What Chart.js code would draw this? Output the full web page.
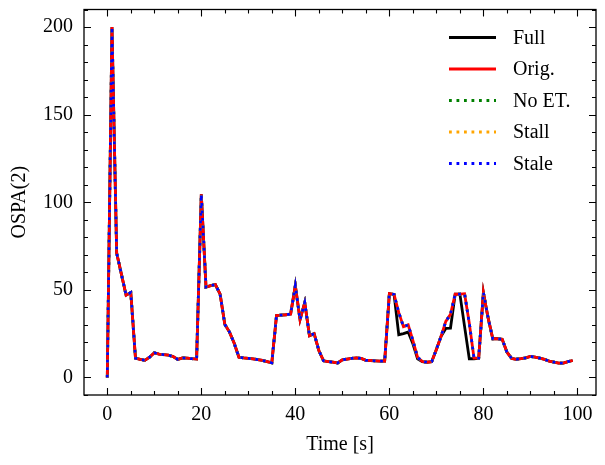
<!DOCTYPE html>
<html>
<head>
<meta charset="utf-8">
<script src="https://cdn.jsdelivr.net/npm/chart.js@4/dist/chart.umd.min.js"></script>
<style>
  html, body { margin: 0; padding: 0; background: #fff; }
  #wrap { width: 605px; height: 465px; }
</style>
</head>
<body>
<div id="wrap"><canvas id="myChart" width="605" height="465"></canvas></div>
<script>
// time stamps [s]
const time = [
  0, 1, 2, 3, 4, 5, 6, 7, 8, 9, 10, 11, 12, 13, 14, 15, 16, 17, 18, 19,
  20, 21, 22, 23, 24, 25, 26, 27, 28, 29, 30, 31, 32, 33, 34, 35, 36, 37, 38, 39,
  40, 41, 42, 43, 44, 45, 46, 47, 48, 49, 50, 51, 52, 53, 54, 55, 56, 57, 58, 59,
  60, 61, 62, 63, 64, 65, 66, 67, 68, 69, 70, 71, 72, 73, 74, 75, 76, 77, 78, 79,
  80, 81, 82, 83, 84, 85, 86, 87, 88, 89, 90, 91, 92, 93, 94, 95, 96, 97, 98, 99
];

// OSPA(2) values per variant
const orig = [
  0, 200, 71, 59, 47, 48.5, 11, 10.3, 9.8, 11.6, 14.1, 13.3, 13, 12.7, 12, 10.3, 11.2, 11, 10.7, 10.5,
  104.5, 51.6, 52.4, 53, 47.5, 30.3, 25.9, 19.5, 11.6, 11.2, 10.9, 10.6, 10.2, 9.7, 9.1, 8.4, 35.4, 35.6, 35.8, 36.2,
  52.4, 33, 42.7, 23.8, 25, 15.4, 9.5, 9.1, 8.7, 8.3, 10.1, 10.5, 10.9, 11.2, 10.9, 9.8, 9.7, 9.5, 9.3, 9.3,
  47.8, 47.4, 37, 29, 30, 21.1, 11.5, 9.1, 8.7, 9, 16, 23.5, 32, 36, 47.6, 47.6, 47.8, 31, 11, 11,
  48.5, 34, 22.1, 22.1, 21.8, 14.5, 10.9, 10.4, 10.7, 11.2, 12, 11.6, 11, 10.3, 9.3, 8.8, 8.2, 8.2, 9, 9.7
];
const full = [
  0, 200, 71, 59, 47, 48.5, 11, 10.3, 9.8, 11.6, 14.1, 13.3, 13, 12.7, 12, 10.3, 11.2, 11, 10.7, 10.5,
  104.5, 51.6, 52.4, 53, 47.5, 30.3, 25.9, 19.5, 11.6, 11.2, 10.9, 10.6, 10.2, 9.7, 9.1, 8.4, 35.4, 35.6, 35.8, 36.2,
  52.4, 33, 42.7, 23.8, 25, 15.4, 9.5, 9.1, 8.7, 8.3, 10.1, 10.5, 10.9, 11.2, 10.9, 9.8, 9.7, 9.5, 9.3, 9.3,
  47.8, 47.4, 24.4, 25, 25.9, 19.2, 10.7, 9.1, 8.7, 9, 16, 23.5, 28, 28.2, 47.6, 47.6, 29, 10.7, 10.7, 11,
  48.5, 34, 22.1, 22.1, 21.8, 14.5, 10.9, 10.4, 10.7, 11.2, 12, 11.6, 11, 10.3, 9.3, 8.8, 8.2, 8.2, 9, 9.7
];
// these three overlap the original run in the figure
const noEt = orig;
const stall = orig;
const stale = orig;

const xTicks = [0, 20, 40, 60, 80, 100];
const yTicks = [0, 50, 100, 150, 200];

const FONT = "'Liberation Serif', 'Times New Roman', serif";

const pts = (vals) => time.map((t, i) => ({ x: t, y: vals[i] }));

// order: higher is drawn first (underneath)
const line = (label, vals, color, dash, order) => ({
    label: label,
    data: pts(vals),
    borderColor: color,
    backgroundColor: color,
    borderWidth: 2.8,
    borderDash: dash,
    borderCapStyle: 'butt',
    pointRadius: 0,
    tension: 0,
    fill: false,
    order: order,
});

// frame, inward ticks (major + minor) and legend inside the axes, like the matplotlib style
const frameAndLegend = {
    id: 'frameAndLegend',
    afterDraw(chart) {
        const { ctx, chartArea: a, scales } = chart;
        const xs = scales.x, ys = scales.y;
        ctx.save();
        ctx.strokeStyle = '#000';
        ctx.lineWidth = 1.3;
        ctx.setLineDash([]);
        ctx.strokeRect(a.left, a.top, a.right - a.left, a.bottom - a.top);

        ctx.lineWidth = 1.1;
        ctx.beginPath();
        for (let v = -5; v <= xs.max; v += 5) {
            if (v < xs.min) continue;
            const px = Math.round(xs.getPixelForValue(v)) + 0.5;
            const len = v % 20 === 0 ? 7 : 4;
            ctx.moveTo(px, a.bottom); ctx.lineTo(px, a.bottom - len);
            ctx.moveTo(px, a.top); ctx.lineTo(px, a.top + len);
        }
        for (let v = -10; v <= ys.max; v += 10) {
            if (v < ys.min) continue;
            const py = Math.round(ys.getPixelForValue(v)) + 0.5;
            const len = v % 50 === 0 ? 7 : 4;
            ctx.moveTo(a.left, py); ctx.lineTo(a.left + len, py);
            ctx.moveTo(a.right, py); ctx.lineTo(a.right - len, py);
        }
        ctx.stroke();

        // legend
        ctx.font = '20px ' + FONT;
        ctx.textBaseline = 'middle';
        ctx.fillStyle = '#000';
        const x0 = a.right - 147, x1 = x0 + 47, tx = x1 + 17;
        chart.data.datasets.forEach((ds, i) => {
            const y = a.top + 28 + i * 31.5;
            ctx.strokeStyle = ds.borderColor;
            ctx.lineWidth = ds.borderWidth;
            ctx.setLineDash(ds.borderDash || []);
            ctx.beginPath();
            ctx.moveTo(x0, y); ctx.lineTo(x1, y);
            ctx.stroke();
            ctx.fillText(ds.label, tx, y + 1);
        });
        ctx.restore();
    }
};

new Chart(document.getElementById('myChart').getContext('2d'), {
    type: 'line',
    data: {
        datasets: [
            line('Full', full, '#000000', [], 4),
            line('Orig.', orig, '#ff0000', [], 3),
            line('No ET.', noEt, '#008000', [2.8, 4.7], 2),
            line('Stall', stall, '#ffa500', [2.8, 4.7], 1),
            line('Stale', stale, '#0000ff', [2.8, 4.7], 0),
        ]
    },
    options: {
        responsive: false,
        animation: false,
        devicePixelRatio: 1,
        layout: { padding: { left: 0, top: 9.5, right: 9, bottom: 0 } },
        plugins: { legend: { display: false }, tooltip: { enabled: false } },
        scales: {
            x: {
                type: 'linear',
                min: -4.95,
                max: 103.95,
                grid: { display: false, drawTicks: false },
                border: { display: false },
                afterFit: (s) => { s.height = 70; s.paddingLeft = 0; s.paddingRight = 0; },
                afterBuildTicks: (s) => { s.ticks = xTicks.map(v => ({ value: v })); },
                ticks: { font: { family: FONT, size: 20 }, color: '#000', padding: 8, maxRotation: 0 },
                title: { display: true, text: 'Time [s]', font: { family: FONT, size: 20 }, color: '#000', padding: { top: 0, bottom: 8 } }
            },
            y: {
                type: 'linear',
                min: -10,
                max: 210,
                grid: { display: false, drawTicks: false },
                border: { display: false },
                afterFit: (s) => { s.width = 84; s.paddingTop = 0; s.paddingBottom = 0; },
                afterBuildTicks: (s) => { s.ticks = yTicks.map(v => ({ value: v })); },
                ticks: { font: { family: FONT, size: 20 }, color: '#000', padding: 11 },
                title: { display: true, text: 'OSPA(2)', font: { family: FONT, size: 20 }, color: '#000', padding: { top: 8, bottom: 0 } }
            }
        }
    },
    plugins: [frameAndLegend]
});
</script>
</body>
</html>
